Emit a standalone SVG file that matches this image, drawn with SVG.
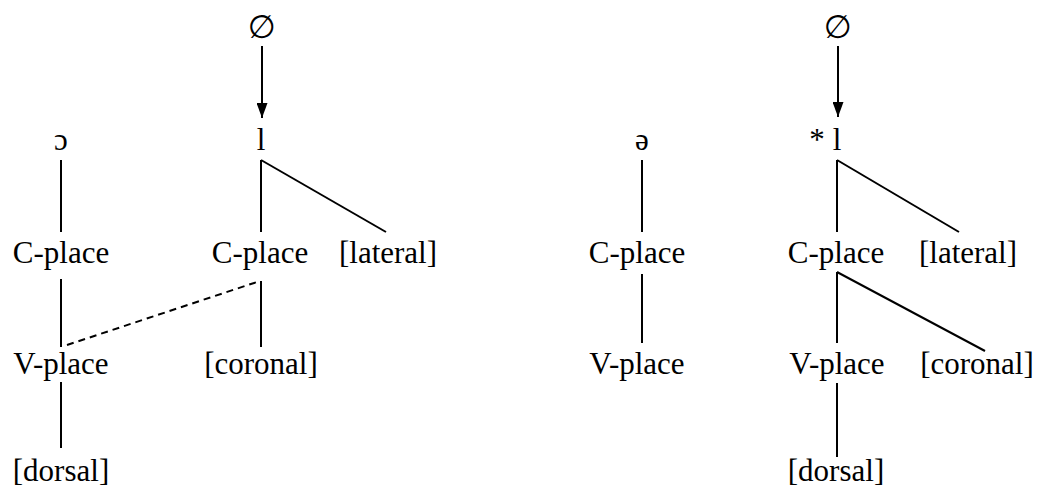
<svg xmlns="http://www.w3.org/2000/svg" width="1040" height="489" viewBox="0 0 1040 489">
<style>
text{font-family:"Liberation Serif","Times New Roman",serif;font-size:31px;fill:#000;text-anchor:middle}
.sym{font-family:"DejaVu Sans","Liberation Serif",serif;font-size:32px}
.e{stroke:#000;stroke-width:2;fill:none}
.d{stroke-dasharray:7,5}
</style>
<defs>
<marker id="ah" viewBox="0 0 15 11" refX="15" refY="5.5" markerWidth="15" markerHeight="11" markerUnits="userSpaceOnUse" orient="auto">
<path d="M0,0 L15,5.5 L0,11 Z" fill="#000"/>
</marker>
</defs>
<rect width="1040" height="489" fill="#fff"/>
<g id="connectors">
<line class="e" x1="262" y1="46" x2="262" y2="118" marker-end="url(#ah)"/>
<line class="e" x1="61" y1="160" x2="61" y2="232"/>
<line class="e" x1="261" y1="160" x2="261" y2="232"/>
<line class="e" x1="261" y1="160" x2="386" y2="232"/>
<line class="e" x1="61" y1="279" x2="61" y2="347"/>
<line class="e d" x1="67" y1="345" x2="260" y2="281"/>
<line class="e" x1="261" y1="281" x2="261" y2="347"/>
<line class="e" x1="61" y1="382" x2="61" y2="448"/>
<line class="e" x1="838" y1="46" x2="838" y2="117" marker-end="url(#ah)"/>
<line class="e" x1="642" y1="160" x2="642" y2="232"/>
<line class="e" x1="837" y1="160" x2="837" y2="232"/>
<line class="e" x1="837" y1="160" x2="959" y2="232"/>
<line class="e" x1="642" y1="274" x2="642" y2="343"/>
<line class="e" x1="837" y1="272" x2="837" y2="343"/>
<line class="e" x1="837" y1="272" x2="985" y2="351"/>
<line class="e" x1="837" y1="383" x2="837" y2="457"/>
</g>
<g id="empty1"><text class="sym" x="262" y="38">∅</text></g>
<g id="o1"><text x="61" y="150">ɔ</text></g>
<g id="l1"><text x="261" y="150">l</text></g>
<g id="cplace1"><text x="61" y="263">C-place</text></g>
<g id="cplace2"><text x="260" y="263">C-place</text></g>
<g id="lateral1"><text x="388" y="263">[lateral]</text></g>
<g id="vplace1"><text x="61" y="374">V-place</text></g>
<g id="coronal1"><text x="261" y="374">[coronal]</text></g>
<g id="dorsal1"><text x="61" y="481">[dorsal]</text></g>
<g id="empty2"><text class="sym" x="838" y="38">∅</text></g>
<g id="schwa"><text x="642" y="150">ə</text></g>
<g id="l2"><text x="837" y="150">l</text><text x="817" y="150">*</text></g>
<g id="cplace3"><text x="637" y="263">C-place</text></g>
<g id="cplace4"><text x="836" y="263">C-place</text></g>
<g id="lateral2"><text x="968" y="263">[lateral]</text></g>
<g id="vplace2"><text x="637" y="374">V-place</text></g>
<g id="vplace3"><text x="837" y="374">V-place</text></g>
<g id="coronal2"><text x="977" y="374">[coronal]</text></g>
<g id="dorsal2"><text x="836" y="481">[dorsal]</text></g>
</svg>
